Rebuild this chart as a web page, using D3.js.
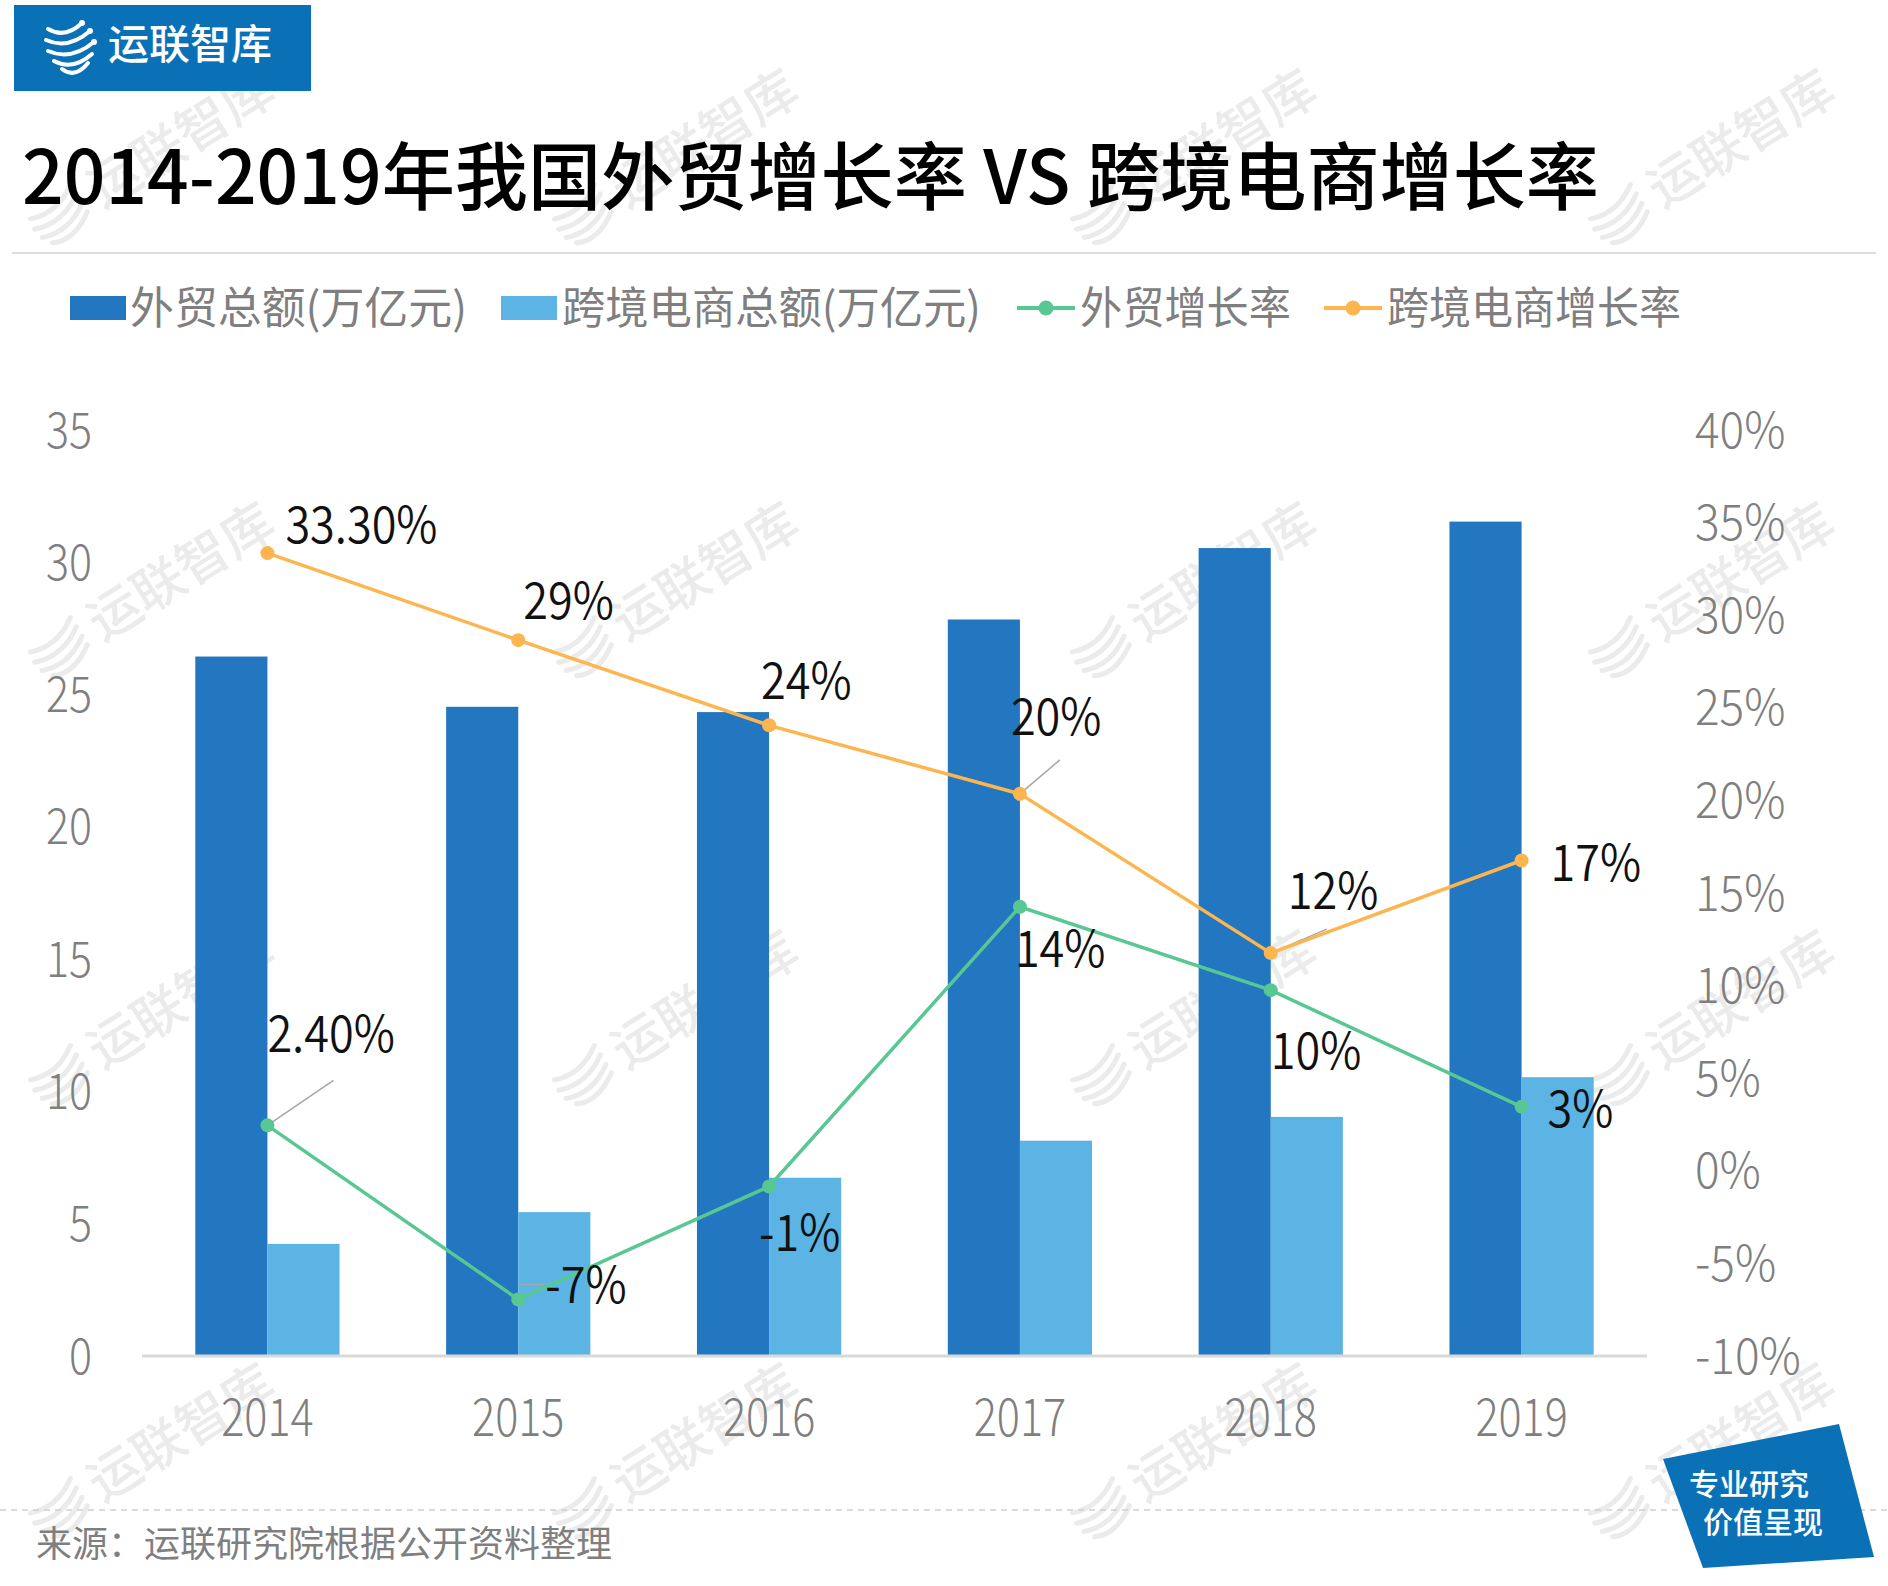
<!DOCTYPE html>
<html><head><meta charset="utf-8">
<script src="https://cdn.jsdelivr.net/npm/d3@7"></script>
<style>
html,body{margin:0;padding:0;background:#fff;}
svg{display:block;}
</style></head>
<body>
<svg id="chart" width="1888" height="1586"></svg>
<script>
// ---- data ----
const years = ['2014','2015','2016','2017','2018','2019'];
const tradeTotal = [26.4, 24.5, 24.3, 27.8, 30.5, 31.5];      // 外贸总额(万亿元)
const ecomTotal = [4.2, 5.4, 6.7, 8.1, 9.0, 10.5];            // 跨境电商总额(万亿元)
const tradeGrowth = [2.4, -7.0, -0.9, 14.2, 9.7, 3.4];        // 外贸增长率 %
const ecomGrowth = [33.3, 28.6, 24.0, 20.3, 11.7, 16.7];      // 跨境电商增长率 %
const tradeGrowthLabels = ['2.40%','-7%','-1%','14%','10%','3%'];
const ecomGrowthLabels = ['33.30%','29%','24%','20%','12%','17%'];
const leftTicks = [0,5,10,15,20,25,30,35];
const rightTicks = [-10,-5,0,5,10,15,20,25,30,35,40];
const legendLabels = ['外贸总额(万亿元)','跨境电商总额(万亿元)','外贸增长率','跨境电商增长率'];

// ---- label placement (offsets from point, px) ----
const ecomLabelOffset = [[18,-28],[5,-39],[-8,-44],[-9,-77],[17,-62],[29,2]];
const tradeLabelOffset = [[0,-91],[27,-14],[-10,47],[-5,42],[0,61],[26,2]];

const C = {dark:'#2277c0', light:'#5bb4e4', green:'#58c793', orange:'#fdb550', gray:'#7f7f7f', blue:'#0a71b6'};
const FONT = '"Noto Sans CJK SC","Noto Sans",sans-serif';

const svg = d3.select('#chart');

function squeeze(sel, f){ sel.each(function(){ const l=this.getComputedTextLength(); d3.select(this).attr('textLength', l*f).attr('lengthAdjust','spacingAndGlyphs'); }); }

// ---- watermarks (behind everything) ----
const wm = svg.append('g').attr('pointer-events','none');
const wmX = [60,584,1102,1620], wmY = [217,650,1078,1511];
wmY.forEach(yy=>wmX.forEach(xx=>{
  const g = wm.append('g').attr('transform',`translate(${xx},${yy}) rotate(-32)`);
  [[-26,-14],[-28,-3],[-26,8],[-20,18]].forEach(p=>{
    g.append('path').attr('d',`M${p[0]},${p[1]} Q0,${p[1]+10} 26,${p[1]-8}`).attr('fill','none').attr('stroke','#ebebeb').attr('stroke-width',5).attr('stroke-linecap','round');
  });
  g.append('text').attr('x',40).attr('y',16).attr('fill','#ebebeb').attr('font-family',FONT).attr('font-weight',500).attr('font-size',52).text('运联智库');
}));

// ---- header ----
svg.append('rect').attr('x',14).attr('y',5).attr('width',297).attr('height',86).attr('fill',C.blue);
const logo = svg.append('g').attr('transform','translate(70,45)');
[[-22,-16,12,-22],[-24,-5,20,-14],[-22,6,24,-3],[-16,16,22,9],[-8,24,18,18]].forEach(p=>{
  logo.append('path').attr('d',`M${p[0]},${p[1]} Q${(p[0]+p[2])/2},${p[1]+10} ${p[2]},${p[3]}`)
    .attr('fill','none').attr('stroke','#fff').attr('stroke-width',4).attr('stroke-linecap','round');
});
[[12,-22],[20,-14],[24,-3]].forEach(p=>logo.append('circle').attr('cx',p[0]).attr('cy',p[1]).attr('r',3).attr('fill','#fff'));
svg.append('text').attr('x',108).attr('y',59).attr('fill','#fff').attr('font-family',FONT).attr('font-weight',500)
  .attr('font-size',41).text('运联智库');

const title = svg.append('text').attr('x',22).attr('y',204).attr('fill','#000').attr('font-family',FONT).attr('font-weight',500)
  .attr('font-size',74).text('2014-2019年我国外贸增长率 VS 跨境电商增长率');
title.attr('textLength',1577).attr('lengthAdjust','spacingAndGlyphs');
svg.append('line').attr('x1',12).attr('x2',1876).attr('y1',253).attr('y2',253).attr('stroke','#dcdcdc').attr('stroke-width',2);

// ---- legend ----
const lg = svg.append('g');
const legendX = [[70,130],[501,562],[1017,1080],[1324,1387]];
const legendW = [337,419,211,294];
lg.append('rect').attr('x',70).attr('y',296).attr('width',56).attr('height',24).attr('fill',C.dark);
lg.append('rect').attr('x',501).attr('y',296).attr('width',56).attr('height',24).attr('fill',C.light);
[[1017,C.green],[1324,C.orange]].forEach(([x,c])=>{
  lg.append('line').attr('x1',x).attr('x2',x+58).attr('y1',308).attr('y2',308).attr('stroke',c).attr('stroke-width',4);
  lg.append('circle').attr('cx',x+29).attr('cy',308).attr('r',7.5).attr('fill',c);
});
legendLabels.forEach((t,i)=>{
  lg.append('text').attr('x',legendX[i][1]).attr('y',308).attr('dy','0.36em').attr('fill',C.gray)
    .attr('font-family',FONT).attr('font-weight',400).attr('font-size',44).text(t)
    .attr('textLength',legendW[i]).attr('lengthAdjust','spacingAndGlyphs');
});

// ---- scales ----
const x = d3.scaleBand().domain(years).range([142,1647]).paddingInner(0.425).paddingOuter(0.2125);
const x1 = d3.scaleBand().domain(['trade','ecom']).range([0,x.bandwidth()]);
const yL = d3.scaleLinear().domain([0,35]).range([1355,429]);
const yR = d3.scaleLinear().domain([-10,40]).range([1355,429]);
const cx = y => x(y) + x.bandwidth()/2;

// ---- axes ----
const axL = svg.append('g').attr('transform','translate(92,0)')
  .call(d3.axisLeft(yL).tickValues(leftTicks).tickSize(0).tickPadding(0));
axL.select('.domain').remove();
axL.selectAll('text').attr('fill',C.gray).attr('font-family',FONT).attr('font-weight',300).attr('font-size',50).attr('dy','0.36em');
squeeze(axL.selectAll('text'),0.86);

const axR = svg.append('g').attr('transform','translate(1695,0)')
  .call(d3.axisRight(yR).tickValues(rightTicks).tickFormat(d=>d+'%').tickSize(0).tickPadding(0));
axR.select('.domain').remove();
axR.selectAll('text').attr('fill',C.gray).attr('font-family',FONT).attr('font-weight',300).attr('font-size',50).attr('dy','0.36em');
squeeze(axR.selectAll('text'),0.92);

// ---- bars ----
const bars = svg.append('g');
bars.selectAll('rect.t').data(years).join('rect').attr('class','t')
  .attr('x',d=>x(d)+x1('trade')).attr('width',x1.bandwidth())
  .attr('y',(d,i)=>yL(tradeTotal[i])).attr('height',(d,i)=>yL(0)-yL(tradeTotal[i])).attr('fill',C.dark);
bars.selectAll('rect.e').data(years).join('rect').attr('class','e')
  .attr('x',d=>x(d)+x1('ecom')).attr('width',x1.bandwidth())
  .attr('y',(d,i)=>yL(ecomTotal[i])).attr('height',(d,i)=>yL(0)-yL(ecomTotal[i])).attr('fill',C.light);

// baseline
svg.append('line').attr('x1',142).attr('x2',1647).attr('y1',1356).attr('y2',1356).attr('stroke','#d9d9d9').attr('stroke-width',3);

// x labels
const xl = svg.append('g').attr('transform','translate(0,1417)')
  .call(d3.axisBottom(x).tickSize(0).tickPadding(0));
xl.select('.domain').remove();
xl.selectAll('text').attr('fill',C.gray).attr('font-family',FONT).attr('font-weight',300).attr('font-size',52).attr('dy','0.36em');
squeeze(xl.selectAll('text'),0.83);

// ---- leader lines ----
const leaders = svg.append('g').attr('stroke','#a6a6a6').attr('stroke-width',1.5).attr('fill','none');
leaders.append('line').attr('x1',cx('2014')).attr('y1',yR(tradeGrowth[0])).attr('x2',cx('2014')+66).attr('y2',yR(tradeGrowth[0])-45);
leaders.append('line').attr('x1',cx('2015')+2).attr('y1',yR(tradeGrowth[1])-15).attr('x2',cx('2015')+26).attr('y2',yR(tradeGrowth[1])-15);
leaders.append('line').attr('x1',cx('2017')).attr('y1',yR(ecomGrowth[3])).attr('x2',cx('2017')+40).attr('y2',yR(ecomGrowth[3])-34);
leaders.append('line').attr('x1',cx('2018')).attr('y1',yR(ecomGrowth[4])).attr('x2',cx('2018')+56).attr('y2',yR(ecomGrowth[4])-24);

// ---- lines ----
function drawLine(vals, color){
  const g = svg.append('g');
  g.append('path').datum(vals).attr('fill','none').attr('stroke',color).attr('stroke-width',3.5)
    .attr('d', d3.line().x((d,i)=>cx(years[i])).y(d=>yR(d)));
  g.selectAll('circle').data(vals).join('circle').attr('cx',(d,i)=>cx(years[i])).attr('cy',d=>yR(d)).attr('r',7).attr('fill',color);
}
drawLine(ecomGrowth, C.orange);
drawLine(tradeGrowth, C.green);

// ---- data labels ----
function drawLabels(vals, labels, offs){
  const g = svg.append('g');
  const t = g.selectAll('text').data(vals).join('text')
    .attr('x',(d,i)=>cx(years[i])+offs[i][0]).attr('y',(d,i)=>yR(d)+offs[i][1]).attr('dy','0.36em')
    .attr('fill','#111').attr('font-family',FONT).attr('font-weight',350).attr('font-size',50)
    .text((d,i)=>labels[i]);
  squeeze(t,0.9);
}
drawLabels(ecomGrowth, ecomGrowthLabels, ecomLabelOffset);
drawLabels(tradeGrowth, tradeGrowthLabels, tradeLabelOffset);

// ---- footer ----
svg.append('line').attr('x1',0).attr('x2',1888).attr('y1',1510).attr('y2',1510).attr('stroke','#cfcfcf').attr('stroke-width',1.5).attr('stroke-dasharray','6,5');
svg.append('text').attr('x',36).attr('y',1544).attr('dy','0.36em').attr('fill',C.gray).attr('font-family',FONT).attr('font-weight',400)
  .attr('font-size',36).text('来源：运联研究院根据公开资料整理').attr('textLength',576).attr('lengthAdjust','spacingAndGlyphs');

// ---- badge ----
svg.append('polygon').attr('points','1663,1459 1839,1424 1874,1557 1703,1568').attr('fill',C.blue);
svg.append('text').attr('x',1689).attr('y',1484).attr('dy','0.36em').attr('fill','#fff').attr('font-family',FONT).attr('font-weight',500).attr('font-size',30).text('专业研究');
svg.append('text').attr('x',1703).attr('y',1522).attr('dy','0.36em').attr('fill','#fff').attr('font-family',FONT).attr('font-weight',500).attr('font-size',30).text('价值呈现');
</script>
</body></html>
